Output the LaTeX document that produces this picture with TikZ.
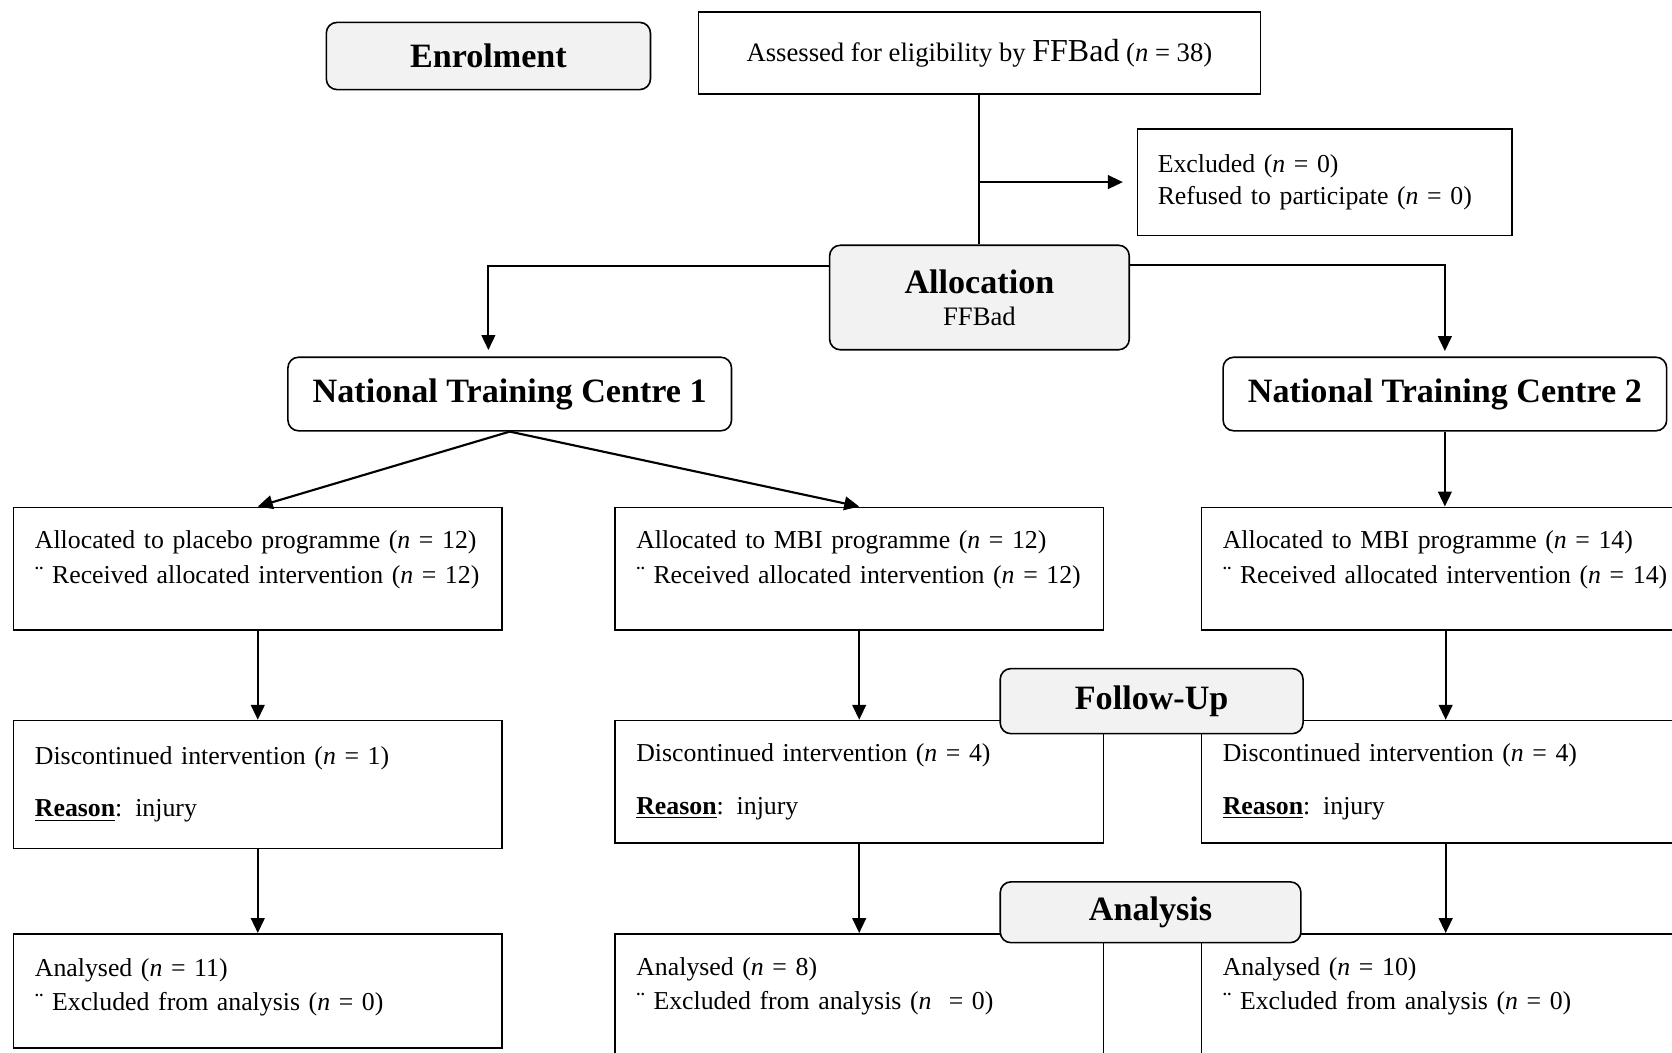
\documentclass[tikz,border=0pt]{standalone}
\usepackage{fontspec}
\setmainfont{Liberation Serif}
\usetikzlibrary{arrows.meta}
\definecolor{boxgray}{HTML}{F2F2F2}
\newcommand{\normsz}{\fontsize{12.1}{16.5}\selectfont}
\newcommand{\headsz}{\fontsize{16}{19}\selectfont\bfseries}
\begin{document}
\begin{tikzpicture}[x=0.5pt,y=-0.5pt,
  conn/.style={line width=0.9pt},
  arr/.style={line width=1pt,-{Triangle[length=7pt,width=6.4pt]}},
  rbox/.style={draw,line width=0.75pt,fill=white,anchor=north west,minimum width=229pt,
    text width=209pt,inner xsep=10pt,inner ysep=0pt,align=left,font=\normsz},
  hbox/.style={draw,line width=0.75pt,rounded corners=5pt,fill=boxgray,inner sep=0pt,
    align=center,font=\headsz},
  ntc/.style={draw,line width=0.75pt,rounded corners=5pt,fill=white,inner sep=0pt,
    minimum width=208pt,minimum height=34.5pt,font=\headsz}]
\useasboundingbox (0,0) rectangle (1568,987);
\fill[white] (0,0) rectangle (1568,987);

% top
\node[hbox,minimum width=152pt,minimum height=31.5pt] (enrol) at (458,52.5) {Enrolment};
\node[draw,line width=0.75pt,minimum width=263.5pt,minimum height=38.5pt,inner sep=0pt,
  font=\fontsize{12.5}{16.5}\selectfont]
  (assess) at (918.5,49.5) {Assessed for eligibility by {\fontsize{15}{18}\selectfont FFBad} (\textit{n} = 38)};
\node[rbox,minimum width=175.5pt,text width=156.5pt,inner xsep=9.5pt,minimum height=50pt,
  font=\fontsize{12.1}{15}\selectfont] (excl) at (1066,120)
  {Excluded (\textit{n} = 0)\\Refused to participate (\textit{n} = 0)};
\node[hbox,minimum width=140.5pt,minimum height=49pt,font=\fontsize{16}{16.5}\selectfont\bfseries]
  (alloc) at (918.5,279) {Allocation\\[-1.5pt]{\fontsize{12.5}{16.5}\selectfont\mdseries FFBad}};

\draw[conn] (assess.south) -- (alloc.north);
\draw[arr,shorten >=6.5pt] (assess.south |- excl.west) -- (excl.west);

% centres
\node[ntc] (ntc1) at (478,369.5) {National Training Centre 1};
\node[ntc] (ntc2) at (1355,369.5) {National Training Centre 2};
\draw[arr,shorten >=3pt] ([yshift=-10pt]alloc.north west) -| ([xshift=-10pt]ntc1.north);
\draw[arr,shorten >=2.5pt] ([yshift=-9.5pt]alloc.north east) -| (ntc2.north);

% allocation boxes
\node[rbox,minimum height=57.5pt] (a1) at (12,475)
  {\mbox{Allocated to placebo programme (\textit{n} = 12)}\\\mbox{¨ Received allocated intervention (\textit{n} = 12)}\\[-6pt]\mbox{}};
\node[rbox,minimum height=57.5pt] (a2) at (576,475)
  {\mbox{Allocated to MBI programme (\textit{n} = 12)}\\\mbox{¨ Received allocated intervention (\textit{n} = 12)}\\[-6pt]\mbox{}};
\node[rbox,minimum height=57.5pt] (a3) at (1126,475)
  {\mbox{Allocated to MBI programme (\textit{n} = 14)}\\\mbox{¨ Received allocated intervention (\textit{n} = 14)}\\[-6pt]\mbox{}};
\draw[arr] (ntc1.south) -- (a1.north);
\draw[arr] (ntc1.south) -- (a2.north);
\draw[arr] (ntc2.south) -- (ntc2.south |- a3.north);

% follow-up boxes
\node[rbox,minimum height=60pt] (d1) at (12,675)
  {Discontinued intervention (\textit{n} = 1)\\[8pt]\underline{\textbf{Reason}}: injury};
\node[rbox,minimum height=57.5pt] (d2) at (576,675)
  {Discontinued intervention (\textit{n} = 4)\\[8pt]\underline{\textbf{Reason}}: injury};
\node[rbox,minimum height=57.5pt] (d3) at (1126,675)
  {Discontinued intervention (\textit{n} = 4)\\[8pt]\underline{\textbf{Reason}}: injury};
\draw[arr] (a1.south) -- (d1.north);
\draw[arr] (a2.south) -- (d2.north);
\draw[arr] (a3.south) -- (d3.north);
\node[hbox,minimum width=142pt,minimum height=30.5pt] (follow) at (1080,657.5) {Follow-Up};

% analysis boxes
\node[rbox,minimum height=53.5pt,font=\fontsize{12.1}{16}\selectfont] (n1) at (12,875)
  {Analysed (\textit{n} = 11)\\\mbox{¨ Excluded from analysis (\textit{n} = 0)}\\[-10pt]\mbox{}};
\node[rbox,minimum height=62pt,font=\fontsize{12.1}{16}\selectfont] (n2) at (576,875)
  {Analysed (\textit{n} = 8)\\\mbox{¨ Excluded from analysis (\textit{n}\ \ = 0)}\\[-1pt]\mbox{}};
\node[rbox,minimum height=62pt,font=\fontsize{12.1}{16}\selectfont] (n3) at (1126,875)
  {Analysed (\textit{n} = 10)\\\mbox{¨ Excluded from analysis (\textit{n} = 0)}\\[-1pt]\mbox{}};
\draw[arr] (d1.south) -- (n1.north);
\draw[arr] (d2.south) -- (n2.north);
\draw[arr] (d3.south) -- (n3.north);
\node[hbox,minimum width=141pt,minimum height=28.5pt] (analysis) at (1079,855.5) {Analysis};
\end{tikzpicture}
\end{document}
